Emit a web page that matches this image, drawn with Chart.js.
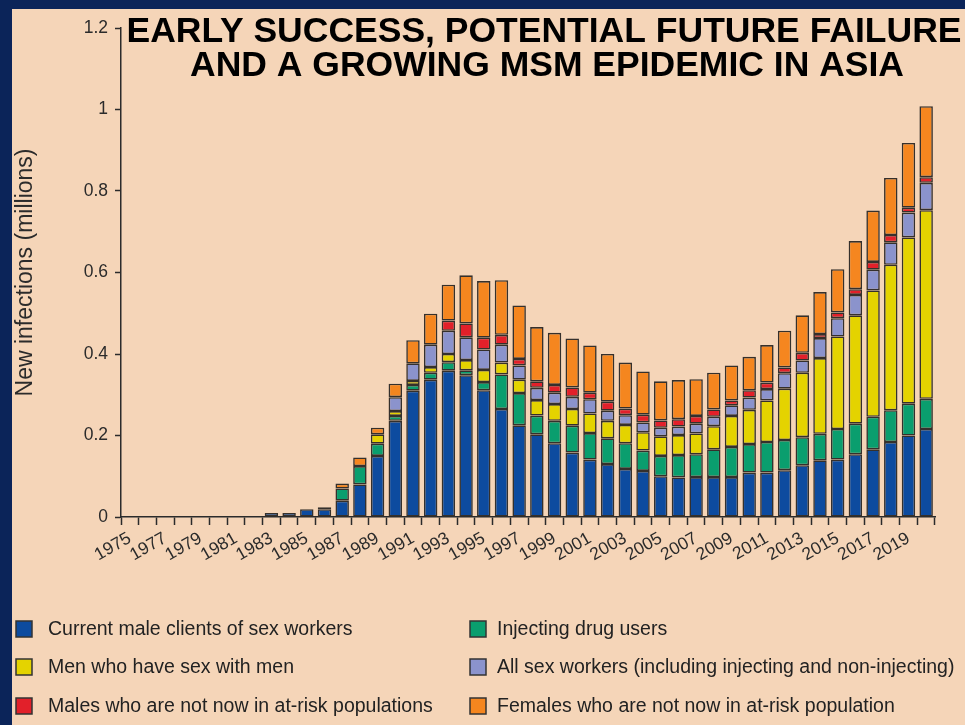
<!DOCTYPE html>
<html>
<head>
<meta charset="utf-8">
<script src="https://cdn.jsdelivr.net/npm/chart.js@4"></script>
<style>
  html, body { margin: 0; padding: 0; background: #0b2459; }
  #wrap { width: 965px; height: 725px; }
</style>
</head>
<body>
<div id="wrap"><canvas id="msmChart" width="965" height="725"></canvas></div>
<script>
const years = [
  "1975","1976","1977","1978","1979","1980","1981","1982","1983","1984",
  "1985","1986","1987","1988","1989","1990","1991","1992","1993","1994",
  "1995","1996","1997","1998","1999","2000","2001","2002","2003","2004",
  "2005","2006","2007","2008","2009","2010","2011","2012","2013","2014",
  "2015","2016","2017","2018","2019","2020"
];

// new infections, millions
const clients = [0,0,0,0,0,0,0,0,
  0.010,0.010,0.019,0.019,0.040,0.080,0.150,0.236,0.310,0.337,0.359,0.348,
  0.311,0.265,0.225,0.203,0.181,0.158,0.141,0.130,0.118,0.113,0.100,0.097,
  0.098,0.098,0.098,0.109,0.109,0.115,0.127,0.139,0.141,0.154,0.166,0.184,
  0.200,0.216];
const idu = [0,0,0,0,0,0,0,0,0,0,0,0,
  0.030,0.045,0.030,0.012,0.014,0.017,0.021,0.012,0.020,0.085,0.079,0.046,
  0.055,0.066,0.065,0.063,0.063,0.050,0.050,0.055,0.056,0.068,0.074,0.070,
  0.075,0.074,0.069,0.065,0.075,0.075,0.080,0.078,0.078,0.074];
const msm = [0,0,0,0,0,0,0,0,0,0,0,0,0,0,
  0.023,0.012,0.010,0.014,0.020,0.025,0.030,0.029,0.033,0.038,0.041,0.041,
  0.048,0.043,0.045,0.045,0.048,0.049,0.051,0.057,0.076,0.084,0.102,0.126,
  0.158,0.186,0.227,0.266,0.310,0.357,0.408,0.463];
const sexWorkers = [0,0,0,0,0,0,0,0,0,0,0,0,0,0,0,
  0.034,0.043,0.055,0.057,0.056,0.050,0.044,0.035,0.030,0.028,0.030,0.035,
  0.025,0.024,0.024,0.021,0.021,0.024,0.023,0.026,0.030,0.028,0.038,0.030,
  0.049,0.045,0.050,0.051,0.055,0.061,0.067];
const malesLowRisk = [0,0,0,0,0,0,0,0,0,0,0,0,0,0,0,0,0,0,
  0.025,0.034,0.029,0.024,0.016,0.016,0.019,0.023,0.016,0.022,0.016,0.019,
  0.018,0.018,0.019,0.018,0.012,0.018,0.016,0.014,0.019,0.010,0.014,0.014,
  0.019,0.018,0.012,0.014];
const femalesLowRisk = [0,0,0,0,0,0,0,0,0,0,0,
  0.005,0.012,0.021,0.016,0.033,0.057,0.076,0.088,0.118,0.139,0.134,0.131,
  0.133,0.128,0.120,0.116,0.117,0.113,0.106,0.096,0.096,0.090,0.090,0.086,
  0.082,0.092,0.090,0.092,0.103,0.106,0.118,0.126,0.140,0.159,0.174];

const seriesLabels = [
  "Current male clients of sex workers",
  "Injecting drug users",
  "Men who have sex with men",
  "All sex workers (including injecting and non-injecting)",
  "Males who are not now in at-risk populations",
  "Females who are not now in at-risk population"
];
const seriesColors = ["#0d4b9f", "#0a9e6e", "#e4d300", "#8b93cc", "#e2202a", "#f5861f"];
const yTicks = [0, 0.2, 0.4, 0.6, 0.8, 1, 1.2];

const titleLines = ["EARLY SUCCESS, POTENTIAL FUTURE FAILURE", "AND A GROWING MSM EPIDEMIC IN ASIA"];

const fontFamily = "'Liberation Sans', Arial, Helvetica, sans-serif";
const inkColor = "#2b2b2b";

const allSeries = [clients, idu, msm, sexWorkers, malesLowRisk, femalesLowRisk];

const panelBg = {
  id: "panelBg",
  beforeDraw(chart) {
    const ctx = chart.ctx;
    ctx.save();
    ctx.fillStyle = "#0b2459";
    ctx.fillRect(0, 0, chart.width, chart.height);
    ctx.fillStyle = "#f5d5b8";
    ctx.fillRect(12, 9, chart.width - 12, chart.height - 9);
    ctx.restore();
  }
};

const titleAndLegend = {
  id: "titleAndLegend",
  afterDraw(chart) {
    const ctx = chart.ctx;
    ctx.save();
    ctx.fillStyle = "#000";
    ctx.font = "bold 35.5px " + fontFamily;
    ctx.textAlign = "center";
    ctx.textBaseline = "alphabetic";
    ctx.fillText(titleLines[0], 544, 42);
    ctx.fillText(titleLines[1], 547, 76);

    // 2 column legend, rows in dataset order
    const colX = [16, 470];
    const rowY = [629, 667, 706];
    ctx.font = "19.5px " + fontFamily;
    ctx.textAlign = "left";
    ctx.textBaseline = "middle";
    chart.data.datasets.forEach((ds, i) => {
      const x = colX[i % 2];
      const y = rowY[Math.floor(i / 2)];
      ctx.fillStyle = ds.backgroundColor;
      ctx.fillRect(x, y - 8, 16, 16);
      ctx.lineWidth = 1.5;
      ctx.strokeStyle = "#333";
      ctx.strokeRect(x, y - 8, 16, 16);
      ctx.fillStyle = "#222";
      ctx.fillText(ds.label, x + (i % 2 ? 27 : 32), y + 1);
    });
    ctx.restore();
  }
};

const ctx = document.getElementById("msmChart").getContext("2d");

window.msmChart = new Chart(ctx, {
  type: "bar",
  data: {
    labels: years,
    datasets: allSeries.map((vals, i) => ({
      label: seriesLabels[i],
      data: vals,
      backgroundColor: seriesColors[i],
      borderColor: "#35302c",
      borderWidth: 1.6,
      borderSkipped: false,
      barPercentage: 0.76,
      categoryPercentage: 1,
    })),
  },
  plugins: [panelBg, titleAndLegend],
  options: {
    responsive: false,
    animation: false,
    layout: {
      padding: { left: 12, top: 28, right: 30, bottom: 0 },
    },
    scales: {
      x: {
        stacked: true,
        offset: true,
        border: { display: true, color: inkColor, width: 1.5 },
        grid: {
          offset: true,
          drawOnChartArea: false,
          drawTicks: true,
          tickLength: 8,
          tickColor: inkColor,
          tickWidth: 1.5,
        },
        ticks: {
          autoSkip: false,
          maxRotation: 30,
          minRotation: 30,
          padding: 3,
          color: inkColor,
          font: { family: fontFamily, size: 17.5 },
          callback: function (val, idx) {
            return idx % 2 === 0 ? years[idx] : "";
          },
        },
        afterFit(scale) {
          scale.height = 208;
        },
      },
      y: {
        stacked: true,
        min: 0,
        max: 1.2,
        border: { display: true, color: inkColor, width: 1.5 },
        grid: {
          drawOnChartArea: false,
          drawTicks: true,
          tickLength: 6,
          tickColor: inkColor,
          tickWidth: 1.5,
        },
        afterBuildTicks(scale) {
          scale.ticks = yTicks.map((v) => ({ value: v }));
        },
        ticks: {
          padding: 7,
          color: inkColor,
          font: { family: fontFamily, size: 17.5 },
          callback: (v) => String(Math.round(v * 10) / 10),
        },
        title: {
          display: true,
          text: "New infections (millions)",
          color: inkColor,
          padding: { top: 0, bottom: 0 },
          font: { family: fontFamily, size: 23 },
        },
        afterFit(scale) {
          scale.width = 109;
        },
      },
    },
    plugins: {
      legend: { display: false },
      title: { display: false },
      tooltip: { enabled: false },
    },
  },
});
</script>
</body>
</html>
